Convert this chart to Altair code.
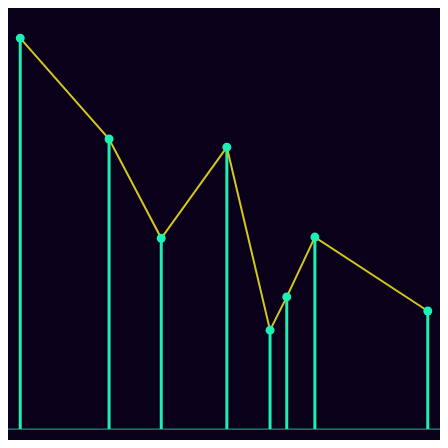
import altair as alt
import pandas as pd

xs = [0, 21.8, 34.6, 50.7, 61.3, 65.4, 72.3, 100]
ys = [100, 74.2, 48.8, 72.1, 25.3, 33.8, 49.1, 30.2]

df = pd.DataFrame({"x": xs, "y": ys})

W, H = 432, 432
BG = "#0a0019"
GREEN = "#1ef0b4"
YELLOW = "#d2c81c"

xsc = alt.Scale(domain=[-3, 103], nice=False, zero=False)
ysc = alt.Scale(domain=[-2.8, 107.7], nice=False, zero=False)

base = alt.Chart(df)

stems = base.mark_rule(color=GREEN, strokeWidth=3).encode(
    x=alt.X("x:Q", scale=xsc, axis=None),
    y=alt.Y("y:Q", scale=ysc, axis=None),
    y2=alt.datum(0),
)

baseline = alt.Chart(pd.DataFrame({"b": [0]})).mark_rule(
    color="#2f8a7a", strokeWidth=1.2
).encode(
    y=alt.Y("b:Q", scale=ysc, axis=None),
    x=alt.value(0),
    x2=alt.value(W),
)

line = base.mark_line(color=YELLOW, strokeWidth=2).encode(
    x=alt.X("x:Q", scale=xsc, axis=None),
    y=alt.Y("y:Q", scale=ysc, axis=None),
)

pts = base.mark_circle(color=GREEN, opacity=1, size=80).encode(
    x=alt.X("x:Q", scale=xsc, axis=None),
    y=alt.Y("y:Q", scale=ysc, axis=None),
)

chart = (
    alt.layer(baseline, stems, line, pts)
    .properties(
        width=W,
        height=H,
        background=BG,
        padding=0,
        autosize=alt.AutoSizeParams(type="none"),
    )
    .configure_view(stroke=None)
)

chart.save("out.html", embed_options={"renderer": "svg", "actions": False})
